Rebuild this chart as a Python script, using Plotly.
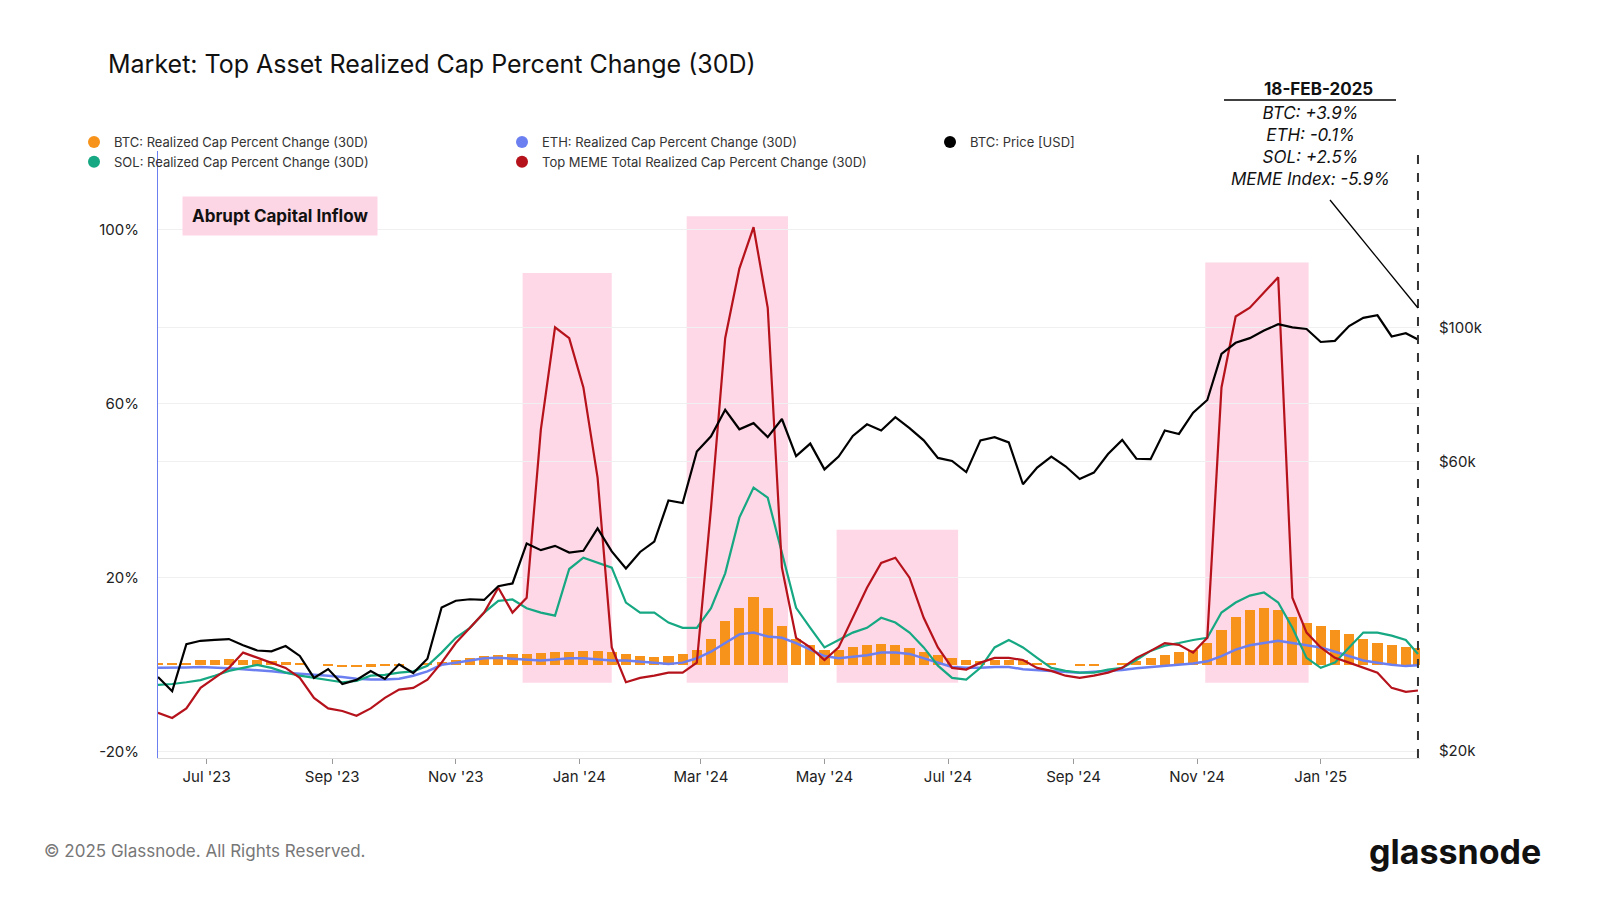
import pandas as pd
import plotly.graph_objects as go

# weekly samples, Jun 2023 -> 18 Feb 2025
dates = list(pd.date_range("2023-06-07", periods=89, freq="7D")) + [pd.Timestamp("2025-02-18")]

btc_price_k = [26.5, 25.1, 30.0, 30.4, 30.5, 30.6, 29.9, 29.3, 29.2, 29.8, 28.7, 26.4, 27.3,
               25.8, 26.2, 27.1, 26.3, 27.8, 26.9, 28.4, 34.5, 35.4, 35.6, 35.5, 37.4, 37.8,
               44.0, 42.9, 43.6, 42.5, 42.8, 46.6, 42.7, 40.0, 42.6, 44.3, 51.8, 51.3, 62.4,
               66.1, 73.1, 67.9, 69.5, 65.9, 70.6, 61.3, 64.3, 58.3, 61.2, 66.2, 69.2, 67.6,
               71.1, 68.2, 65.1, 60.9, 60.2, 57.7, 65.1, 65.9, 64.6, 55.1, 58.7, 61.2, 59.0,
               56.2, 57.6, 61.8, 65.2, 60.7, 60.6, 67.6, 66.7, 72.3, 75.9, 90.4, 94.3, 96.0,
               98.8, 101.2, 100.0, 99.4, 94.6, 95.0, 100.5, 103.7, 104.7, 96.6, 97.8, 95.5]

btc_rc = [0.2, 0.3, 0.5, 1.0, 1.2, 1.3, 1.2, 1.0, 0.8, 0.6, 0.3, 0.0, -0.3,
          -0.5, -0.6, -0.4, -0.3, -0.2, 0.0, 0.3, 0.6, 1.0, 1.5, 2.0, 2.2, 2.4,
          2.5, 2.8, 2.9, 3.0, 3.2, 3.2, 3.0, 2.5, 2.0, 1.8, 2.0, 2.5, 3.5,
          6.0, 10.0, 13.0, 15.5, 13.0, 9.0, 6.0, 4.5, 3.5, 3.5, 4.0, 4.5, 4.8,
          4.6, 3.8, 3.0, 2.2, 1.5, 1.0, 0.8, 1.0, 1.2, 1.0, 0.5, 0.2, 0.0,
          -0.2, -0.2, 0.0, 0.3, 0.8, 1.5, 2.3, 3.0, 3.5, 5.0, 8.0, 11.0, 12.5,
          13.0, 12.5, 11.0, 9.5, 9.0, 8.0, 7.0, 6.0, 5.0, 4.5, 4.2, 3.9]

eth_rc = [-0.7, -0.7, -0.6, -0.5, -0.6, -0.8, -1.0, -1.2, -1.5, -1.8, -2.0, -2.2, -2.5,
          -2.8, -3.2, -3.4, -3.4, -3.2, -2.5, -1.5, 0.0, 0.5, 1.0, 1.5, 1.6, 1.4,
          1.2, 1.0, 1.2, 1.5, 1.5, 1.2, 1.0, 1.0, 0.8, 0.5, 0.2, 0.5, 1.5,
          3.0, 5.0, 7.0, 7.4, 6.5, 6.2, 5.0, 3.5, 2.0, 1.5, 1.8, 2.2, 2.8,
          2.8, 2.5, 1.5, 0.5, -0.5, -0.7, -0.7, -0.5, -0.5, -1.0, -1.2, -1.4, -1.6,
          -1.8, -1.6, -1.4, -1.2, -0.8, -0.5, -0.2, 0.0, 0.3, 0.8, 2.0, 3.5, 4.5,
          5.0, 5.5, 5.0, 4.5, 4.0, 3.0, 2.0, 1.0, 0.5, 0.0, -0.3, -0.1]

sol_rc = [-4.6, -4.4, -4.0, -3.5, -2.5, -1.4, -0.7, 0.0, -0.7, -1.8, -2.5, -3.0, -3.4,
          -4.0, -3.7, -2.5, -2.3, -1.8, -1.5, -0.2, 2.8, 6.2, 8.5, 12.0, 14.7, 15.0,
          13.0, 12.0, 11.3, 22.0, 24.6, 23.4, 22.3, 14.3, 12.0, 12.0, 9.7, 8.5, 8.5,
          13.0, 21.0, 33.8, 40.7, 38.4, 25.7, 13.1, 8.5, 4.0, 5.7, 7.4, 8.5, 10.8,
          9.7, 7.4, 4.0, -0.2, -3.0, -3.4, -0.7, 4.0, 5.7, 4.0, 1.6, -0.7, -1.4,
          -1.8, -1.8, -1.1, -0.7, 1.1, 3.2, 4.4, 5.0, 5.7, 6.2, 12.0, 14.3, 15.9,
          16.6, 14.3, 8.5, 1.6, -0.7, 0.5, 4.0, 7.4, 7.4, 6.7, 5.7, 2.5]

meme_rc = [-11.0, -12.2, -10.0, -5.3, -3.0, -0.7, 2.8, 1.6, 0.5, -0.7, -3.0, -7.6, -10.0,
           -10.6, -11.7, -10.0, -7.6, -5.7, -5.3, -3.4, 0.5, 5.0, 8.5, 12.0, 17.7, 12.0,
           15.4, 54.0, 77.5, 75.0, 63.7, 43.0, 4.0, -4.0, -3.0, -2.5, -1.8, -1.8, 0.5,
           36.0, 75.0, 91.0, 100.5, 82.0, 22.3, 6.2, 4.0, 1.1, 4.0, 10.8, 17.7, 23.4,
           24.6, 20.0, 10.8, 4.0, -0.7, -1.1, 0.5, 1.6, 1.6, 1.1, -0.7, -1.4, -2.5,
           -3.0, -2.5, -1.8, -0.7, 1.6, 3.2, 5.0, 4.6, 2.8, 6.2, 63.7, 80.0, 82.0,
           85.5, 89.0, 15.4, 7.4, 4.0, 1.6, 0.5, -0.7, -1.8, -5.3, -6.2, -5.9]

# "Abrupt Capital Inflow" windows: start, end, top %
zone_start = ["2023-12-04", "2024-02-23", "2024-05-07", "2024-11-05"]
zone_end = ["2024-01-17", "2024-04-13", "2024-07-06", "2024-12-26"]
zone_top = [90, 103, 31, 92.4]
zone_bottom = -4.1

C_BTC, C_ETH, C_SOL, C_MEME = "#f7931a", "#6b7ff0", "#16a883", "#b5121b"

fig = go.Figure()
fig.add_trace(go.Bar(x=dates, y=btc_rc, marker=dict(color=C_BTC, line_width=0),
                     width=5 * 86400000, showlegend=False))
fig.add_trace(go.Scatter(x=dates, y=eth_rc, mode="lines", line=dict(color=C_ETH, width=2.5), showlegend=False))
fig.add_trace(go.Scatter(x=dates, y=sol_rc, mode="lines", line=dict(color=C_SOL, width=2.2), showlegend=False))
fig.add_trace(go.Scatter(x=dates, y=meme_rc, mode="lines", line=dict(color=C_MEME, width=2.2), showlegend=False))
fig.add_trace(go.Scatter(x=dates, y=[p * 1000 for p in btc_price_k], mode="lines", yaxis="y2",
                         line=dict(color="black", width=2.2), showlegend=False))

legend_items = [("BTC: Realized Cap Percent Change (30D)", C_BTC),
                ("ETH: Realized Cap Percent Change (30D)", C_ETH),
                ("BTC: Price [USD]", "black"),
                ("SOL: Realized Cap Percent Change (30D)", C_SOL),
                ("Top MEME Total Realized Cap Percent Change (30D)", C_MEME)]
for name, col in legend_items:
    fig.add_trace(go.Scatter(x=[None], y=[None], mode="markers", name=name,
                             marker=dict(color=col, size=9)))

for s, e, t in zip(zone_start, zone_end, zone_top):
    fig.add_shape(type="rect", x0=s, x1=e, y0=zone_bottom, y1=t, xref="x", yref="y",
                  fillcolor="rgba(253,190,214,0.6)", line_width=0, layer="below")

fig.add_shape(type="line", x0="2025-02-18", x1="2025-02-18", y0=0, y1=1, xref="x", yref="paper",
              line=dict(color="#333", width=2, dash="dash"))


def px(x):
    return (x - 150) / 1262


def py(y):
    return (750 - y) / 607


fig.update_layout(
    width=1600, height=900, template="plotly_white",
    margin=dict(l=150, r=188, t=143, b=150),
    font=dict(family="Inter, Roboto, sans-serif", size=14, color="#222"),
    title=dict(text="Market: Top Asset Realized Cap Percent Change (30D)", x=100 / 1600, xanchor="left",
               y=1 - 56 / 900, yanchor="middle", font=dict(size=25, color="#111")),
    bargap=0,
    legend=dict(orientation="h", x=px(66), y=py(119), xanchor="left", yanchor="top",
                entrywidth=383, entrywidthmode="pixels", font=dict(size=13, color="#333"),
                itemsizing="constant", tracegroupgap=0, bgcolor="rgba(0,0,0,0)"),
    xaxis=dict(range=["2023-06-07", "2025-02-19"], tickformat="%b '%y", dtick="M2",
               tick0="2023-07-01", showgrid=False, ticks="outside", ticklen=5, tickcolor="#999",
               showline=True, linecolor="#ddd", tickfont=dict(size=15), zeroline=False),
    yaxis=dict(range=[-21.4, 118], tickvals=[-20, 20, 60, 100], ticktext=["-20%", "20%", "60%", "100%"],
               gridcolor="#f0f0f0", zeroline=False, showline=True, linecolor="#6b7ff0",
               tickfont=dict(size=15), ticklabelstandoff=15),
    yaxis2=dict(type="log", overlaying="y", side="right", range=[4.2895, 5.291],
                tickvals=[20000, 60000, 100000], ticktext=["$20k", "$60k", "$100k"],
                gridcolor="#f0f0f0", showline=False, zeroline=False, tickfont=dict(size=15),
                ticklabelstandoff=18),
)

fig.add_shape(type="line", x0=px(1322), x1=px(1410), y0=py(192), y1=py(300), xref="paper", yref="paper",
              line=dict(color="black", width=1.3))
fig.add_shape(type="line", x0=px(1216), x1=px(1388), y0=py(92), y1=py(92), xref="paper", yref="paper",
              line=dict(color="black", width=1.3))
fig.add_annotation(x=px(1310), y=py(81), xref="paper", yref="paper", xanchor="center", yanchor="middle",
                   text="<b>18-FEB-2025</b>", showarrow=False, font=dict(size=17, color="#111"))
fig.add_annotation(x=px(1302), y=py(93), xref="paper", yref="paper", xanchor="center", yanchor="top",
                   text="<i>BTC: +3.9%<br>ETH: -0.1%<br>SOL: +2.5%<br>MEME Index: -5.9%</i>",
                   showarrow=False, font=dict(size=17, color="#111"), align="center")
fig.add_annotation(x=px(174), y=py(208), xref="paper", yref="paper", xanchor="left", yanchor="middle",
                   text="<b>Abrupt Capital Inflow</b>", showarrow=False, bgcolor="#fdd6e5",
                   borderpad=9, font=dict(size=17, color="#111"))
fig.add_annotation(x=px(34), y=py(843), xref="paper", yref="paper", xanchor="left", yanchor="middle",
                   text="© 2025 Glassnode. All Rights Reserved.", showarrow=False,
                   font=dict(size=17, color="#777"))
fig.add_annotation(x=px(1535), y=py(843), xref="paper", yref="paper", xanchor="right", yanchor="middle",
                   text="<b>glassnode</b>", showarrow=False, font=dict(size=34, color="#111"))

fig.write_html("out.html")
